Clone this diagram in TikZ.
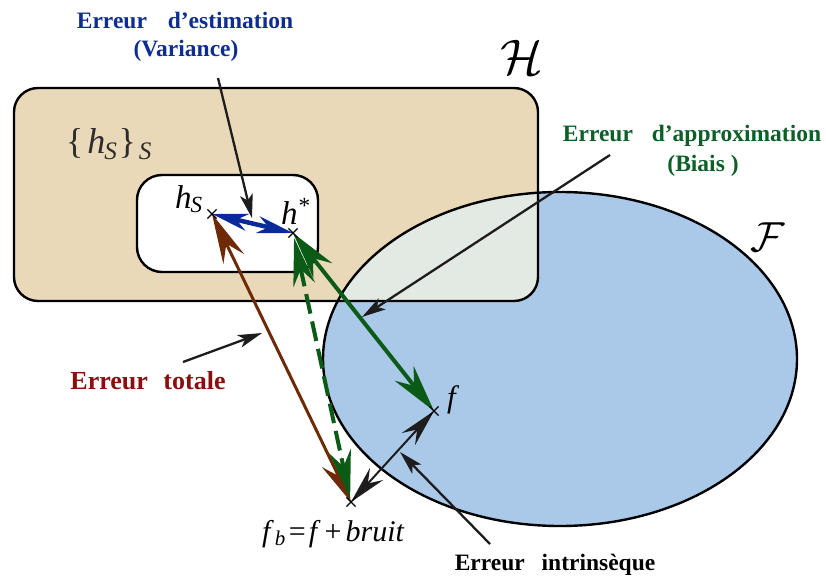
\RequirePackage{fix-cm}
\documentclass[tikz,border=0pt]{standalone}
\usepackage{fontspec}
\setmainfont{Liberation Serif}
\usetikzlibrary{arrows.meta,shapes.misc}
\definecolor{tanfill}{HTML}{E9D9B9}
\definecolor{bluefill}{HTML}{AAC9E9}
\definecolor{overfill}{HTML}{E3EAE3}
\definecolor{txtblue}{HTML}{0E2D92}
\definecolor{txtgreen}{HTML}{0D5F28}
\definecolor{txtred}{HTML}{8B0E0E}
\definecolor{arrblue}{HTML}{0A2A9A}
\definecolor{arrgreen}{HTML}{0B5A16}
\definecolor{arrbrown}{HTML}{6E2A05}
\definecolor{ptrblack}{HTML}{1E1C1C}
\definecolor{setgray}{HTML}{2C2C2C}
\tikzset{
  setline/.style={draw=black, line width=2.4pt},
  lbl/.style={inner sep=0pt, font=\fontsize{23.5}{26}\selectfont\bfseries},
  mathlbl/.style={inner sep=0pt, font=\fontsize{33}{35}\selectfont\itshape},
  pointer/.style={draw=ptrblack, line width=2.3pt, -{Stealth[length=24pt,width=13pt,inset=6pt]}},
  bluearr/.style={draw=arrblue, line width=4.5pt,
    {Stealth[length=36pt,width=17pt,inset=11pt]}-{Stealth[length=36pt,width=17pt,inset=11pt]}},
  greenarr/.style={draw=arrgreen, line width=4pt,
    {Stealth[length=48pt,width=24pt,inset=16pt]}-{Stealth[length=48pt,width=24pt,inset=16pt]}},
  greendash/.style={draw=arrgreen, line width=4pt, dash pattern=on 20pt off 8pt,
    {Stealth[length=48pt,width=22pt,inset=16pt,sep=0pt]}-{Stealth[length=48pt,width=22pt,inset=16pt]}},
  brownarr/.style={draw=arrbrown, line width=3pt,
    {Stealth[length=50pt,width=23pt,inset=17pt]}-{Stealth[length=44pt,width=22pt,inset=15pt]}},
  blackarr/.style={draw=ptrblack, line width=2pt,
    {Stealth[length=38pt,width=18pt,inset=13pt]}-{Stealth[length=38pt,width=18pt,inset=13pt]}},
  ptmark/.style={cross out, draw=black, line width=1.2pt, minimum size=8pt, inner sep=0pt},
}
\begin{document}
\begin{tikzpicture}[x=1pt,y=-1pt]
\useasboundingbox (0,0) rectangle (826,577);

% sets
\fill[tanfill, rounded corners=24pt] (14,88) rectangle (538,301);
\fill[bluefill] (560,359) ellipse [x radius=237pt, y radius=167pt];
\begin{scope}
  \clip[rounded corners=24pt] (14,88) rectangle (538,301);
  \fill[overfill] (560,359) ellipse [x radius=237pt, y radius=167pt];
\end{scope}
\draw[setline, rounded corners=24pt] (14,88) rectangle (538,301);
\draw[setline] (560,359) ellipse [x radius=237pt, y radius=167pt];
\draw[setline, fill=white, rounded corners=25pt] (137,175) rectangle (318,272);

% set labels
\node[inner sep=0pt, font=\fontsize{50}{50}\selectfont] (Hlab) at (522,57) {$\mathcal{H}$};
\node[inner sep=0pt, font=\fontsize{42}{42}\selectfont] (Flab) at (768,237) {$\mathcal{F}$};
\node[inner sep=0pt, text=setgray, font=\fontsize{36}{38}\selectfont, anchor=base west] (hSset) at (66,154)
  {\{\kern4pt\textit{h}\kern-1pt\textsubscript{\textit{S}}\kern1pt\}\kern3pt\textsubscript{\textit{S}}};

% points
\coordinate (hS) at (212,214);
\coordinate (hstar) at (293,233);
\coordinate (f) at (434,411);
\coordinate (fb) at (351,502);

% error arrows
\draw[brownarr] (hS) -- (fb);
\draw[greendash, shorten <=5pt, shorten >=4pt] (hstar) -- (fb);
\draw[greenarr] (hstar) -- (f);
\draw[blackarr] (fb) -- (f);
\draw[bluearr] (hS) -- (hstar);

% point marks
\node[ptmark] (mhS) at (hS) {};
\node[ptmark] (mhstar) at (hstar) {};
\node[ptmark] (mf) at (f) {};
\node[ptmark] (mfb) at (fb) {};

% point labels
\node[mathlbl, anchor=base west] (lhS) at (175,208) {h\kern-1pt\textsubscript{S}};
\node[mathlbl, anchor=base west] (lhstar) at (281,225) {h\textsuperscript{*}};
\node[mathlbl, anchor=base west, font=\fontsize{31}{33}\selectfont\itshape] (lf) at (447,407) {f};
\node[mathlbl, anchor=base west, font=\fontsize{30}{32}\selectfont] (lfb) at (262,541)
  {\textit{f}\kern1pt\textsubscript{\textit{b}}\kern3pt=\kern3pt\textit{f}\kern4pt+\kern4pt\textit{bruit}};

% error labels
\node[lbl, text=txtblue, anchor=base] (est1) at (185,29) {Erreur\hspace{15pt} d'estimation};
\node[lbl, text=txtblue, anchor=base] (est2) at (186,57) {(Variance)};
\node[lbl, text=txtgreen, anchor=base] (app1) at (692,142) {Erreur\hspace{13pt} d'approximation};
\node[lbl, text=txtgreen, anchor=base] (app2) at (703,172) {(Biais )};
\node[lbl, text=txtred, anchor=base, font=\fontsize{26}{28}\selectfont\bfseries] (tot) at (148,389) {Erreur\hspace{9pt} totale};
\node[lbl, text=black, anchor=base] (intr) at (555,570) {Erreur\hspace{11pt} intrinsèque};

% pointers
\coordinate (pEstA) at (218,78);
\coordinate (pEstB) at (252,218);
\coordinate (pAppA) at (610,155);
\coordinate (pAppB) at (362,317);
\coordinate (pTotA) at (183,362);
\coordinate (pTotB) at (262,333);
\coordinate (pIntA) at (490,544);
\coordinate (pIntB) at (400,452);
\draw[pointer] (pEstA) -- (pEstB);
\draw[pointer] (pAppA) -- (pAppB);
\draw[pointer] (pTotA) -- (pTotB);
\draw[pointer] (pIntA) -- (pIntB);
\end{tikzpicture}
\end{document}
